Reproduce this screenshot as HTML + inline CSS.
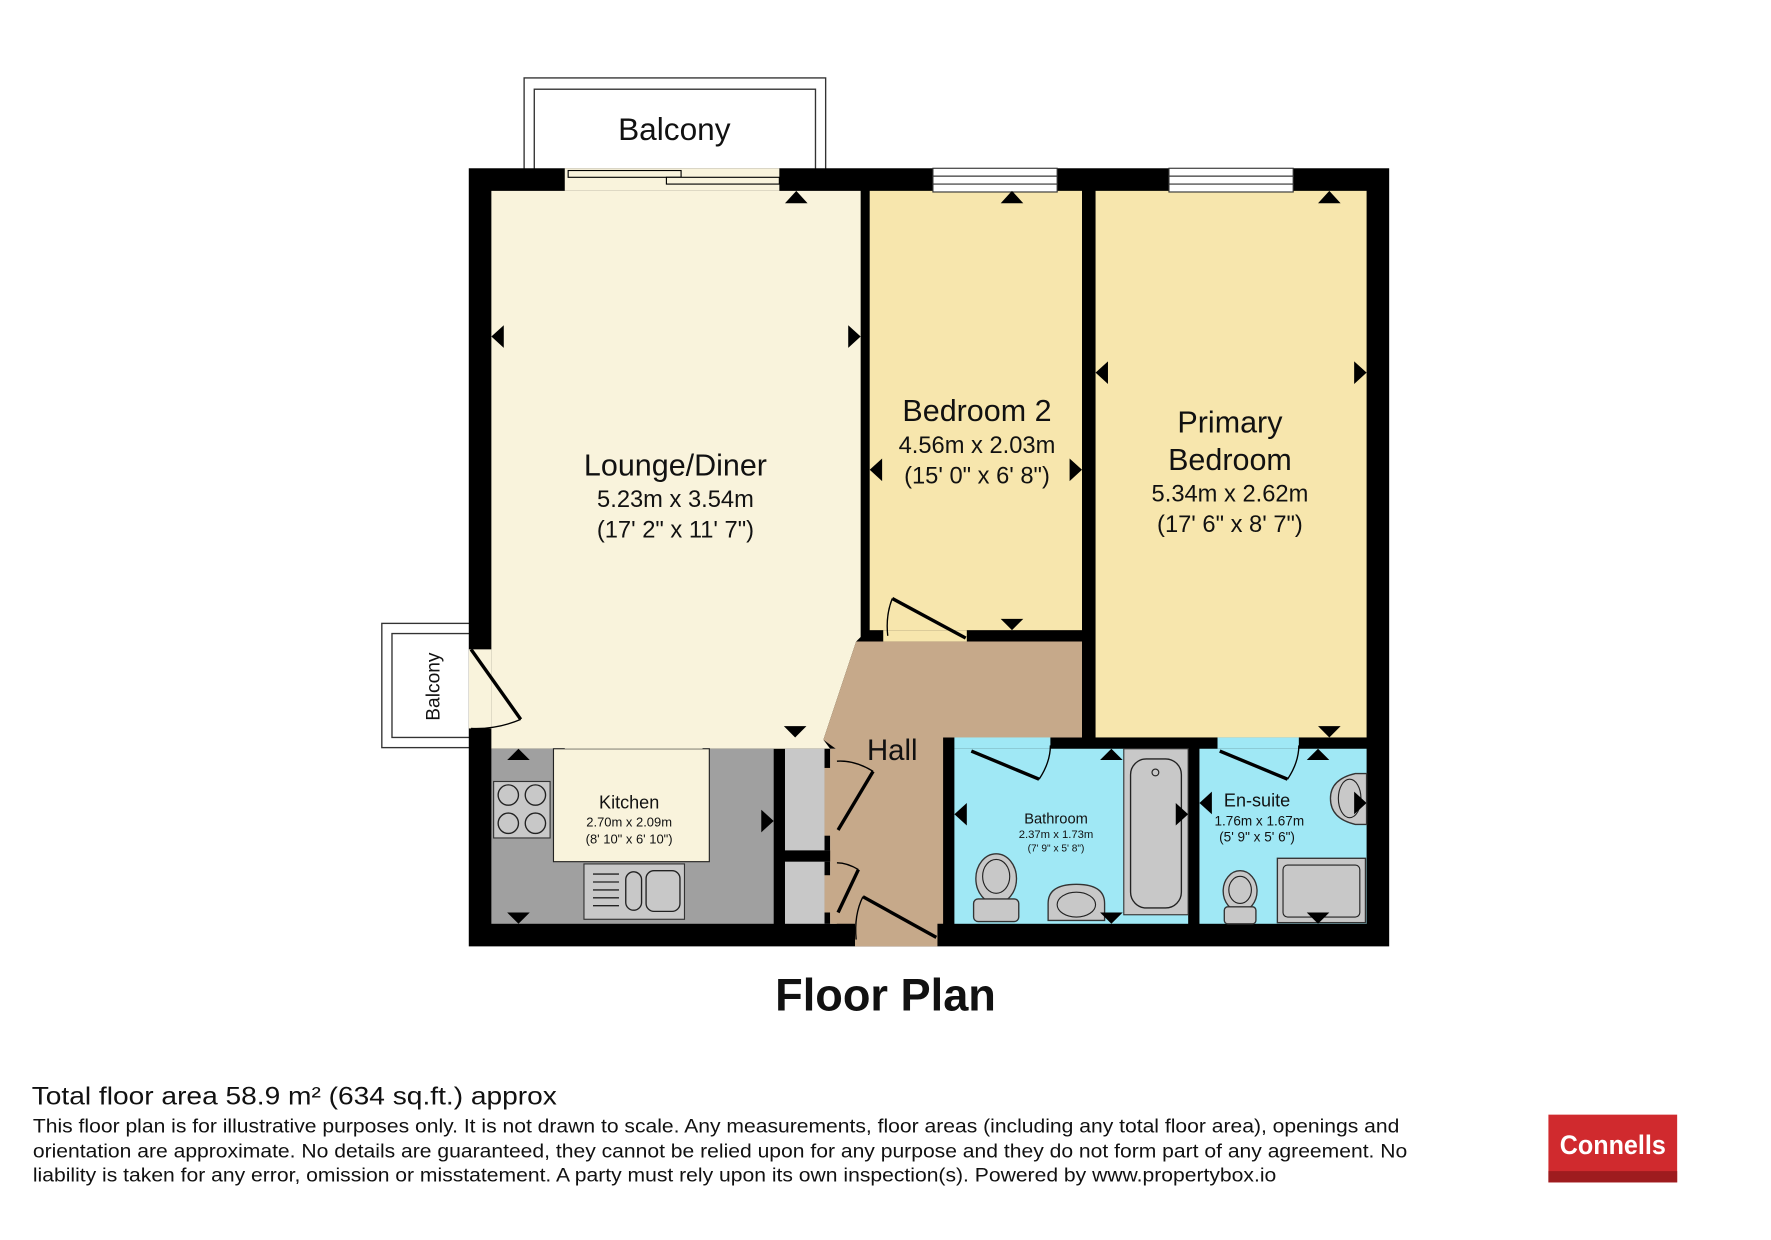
<!DOCTYPE html>
<html><head><meta charset="utf-8"><style>html,body{margin:0;padding:0;background:#fff}svg{display:block}text{font-family:"Liberation Sans",Arial,sans-serif;fill:#111}</style></head><body>
<svg width="1771" height="1240" viewBox="0 0 1568 1098" xmlns="http://www.w3.org/2000/svg">
<rect width="1568" height="1098" fill="#fff"/>
<rect x="464" y="69" width="267" height="90" fill="#fff" stroke="#333" stroke-width="1.2"/>
<rect x="473" y="79" width="249" height="80" fill="#fff" stroke="#333" stroke-width="1.2"/>
<text x="597" y="124" font-size="28" text-anchor="middle">Balcony</text>
<rect x="338" y="552" width="85" height="110" fill="#fff" stroke="#333" stroke-width="1.2"/>
<rect x="347" y="561" width="76" height="92" fill="#fff" stroke="#333" stroke-width="1.2"/>
<text transform="translate(389,608) rotate(-90)" font-size="17" text-anchor="middle">Balcony</text>
<rect x="415" y="149" width="815" height="689" fill="#000"/>
<polygon points="435,169 762,169 762,564 758,568 729,655 735,663 435,663" fill="#f9f3dc"/>
<rect x="770" y="169" width="188" height="389" fill="#f7e6ad"/>
<rect x="970" y="169" width="240" height="484" fill="#f7e6ad"/>
<polygon points="758,568 958,568 958,653 835,653 835,818 830,818 830,838 757,838 757,818 740,818 740,663 729,655" fill="#c6a98a"/>
<rect x="435" y="663" width="250" height="155" fill="#a0a0a0"/>
<rect x="490" y="663" width="138" height="100" fill="#f9f3dc" stroke="#222" stroke-width="1"/>
<rect x="695" y="663" width="45" height="90" fill="#c8c8c8"/>
<rect x="695" y="763" width="45" height="55" fill="#c8c8c8"/>
<rect x="730" y="663" width="5" height="90" fill="#000"/>
<rect x="730" y="763" width="5" height="55" fill="#000"/>
<rect x="735" y="663" width="6" height="155" fill="#c6a98a"/>
<rect x="730" y="680" width="11" height="60" fill="#c6a98a"/>
<rect x="730" y="775" width="11" height="33" fill="#c6a98a"/>
<rect x="845" y="663" width="207" height="155" fill="#a0e8f5"/>
<rect x="1062" y="663" width="148" height="155" fill="#a0e8f5"/>
<rect x="500" y="653" width="122" height="10" fill="#f9f3dc"/>
<rect x="845" y="653" width="85" height="10" fill="#a0e8f5"/>
<rect x="1078" y="653" width="72" height="10" fill="#a0e8f5"/>
<rect x="782" y="558" width="74" height="10" fill="#f7e6ad"/>
<rect x="415" y="575" width="20" height="70" fill="#f9f3dc"/>
<rect x="500" y="149" width="190" height="20" fill="#f9f3dc"/>
<rect x="503" y="151" width="100" height="6" fill="#f9f3dc" stroke="#000" stroke-width="1"/>
<rect x="590" y="157" width="100" height="6" fill="#f9f3dc" stroke="#000" stroke-width="1"/>
<g fill="#fff" stroke="#333" stroke-width="1">
<rect x="826" y="149" width="110" height="7"/><rect x="826" y="156" width="110" height="7"/><rect x="826" y="163" width="110" height="7"/>
<rect x="1035" y="149" width="110" height="7"/><rect x="1035" y="156" width="110" height="7"/><rect x="1035" y="163" width="110" height="7"/>
</g>
<g stroke="#000" fill="none">
<line x1="417" y1="575" x2="461" y2="637" stroke-width="3"/>
<path d="M461,637 Q440,646 417,645" stroke-width="1.2"/>
<line x1="790" y1="530" x2="855" y2="565" stroke-width="3"/>
<path d="M790,530 Q784,545 786,563" stroke-width="1.2"/>
<line x1="860" y1="665" x2="920" y2="690" stroke-width="3"/>
<path d="M920,690 Q930,675 930,660" stroke-width="1.2"/>
<line x1="1080" y1="665" x2="1140" y2="690" stroke-width="3"/>
<path d="M1140,690 Q1150,675 1150,660" stroke-width="1.2"/>
<line x1="742" y1="735" x2="773" y2="683" stroke-width="3"/>
<path d="M773,683 Q757,673 741,674" stroke-width="1.2"/>
<line x1="742" y1="808" x2="760" y2="770" stroke-width="3"/>
<path d="M760,770 Q750,764 741,764" stroke-width="1.2"/>
<line x1="764" y1="794" x2="829" y2="830" stroke-width="3"/>
<path d="M764,794 Q756,810 758,832" stroke-width="1.2"/>
</g>
<rect x="437" y="692" width="50" height="50" fill="#c8c8c8" stroke="#333"/>
<g fill="none" stroke="#222" stroke-width="1.2"><circle cx="450" cy="704" r="9"/><circle cx="474" cy="704" r="9"/><circle cx="450" cy="729" r="9"/><circle cx="474" cy="729" r="9"/></g>
<rect x="517" y="765" width="89" height="49" fill="#c8c8c8" stroke="#333"/>
<g stroke="#222" stroke-width="1.2" fill="none"><line x1="525" y1="774" x2="548" y2="774"/><line x1="525" y1="781" x2="548" y2="781"/><line x1="525" y1="788" x2="548" y2="788"/><line x1="525" y1="795" x2="548" y2="795"/><line x1="525" y1="802" x2="548" y2="802"/><rect x="554" y="772" width="14" height="34" rx="7"/><rect x="572" y="771" width="30" height="36" rx="7"/></g>
<rect x="995" y="663" width="57" height="147" fill="#c8c8c8" stroke="#333"/>
<rect x="1001" y="672" width="45" height="132" rx="14" fill="none" stroke="#222" stroke-width="1.2"/>
<circle cx="1023" cy="684" r="3" fill="none" stroke="#222"/>
<g fill="#c8c8c8" stroke="#333" stroke-width="1.2">
<ellipse cx="882" cy="778" rx="18" ry="22"/><rect x="862" y="796" width="40" height="20" rx="4"/>
<path d="M928,815 L928,800 Q928,783 953,783 Q978,783 978,800 L978,815 Z"/>
<ellipse cx="1098" cy="789" rx="15" ry="18"/><rect x="1084" y="803" width="28" height="15" rx="3"/>
<path d="M1210,685 L1200,685 Q1178,690 1178,707 Q1178,725 1200,730 L1210,730 Z"/>
<rect x="1131" y="760" width="78" height="57"/>
</g>
<g fill="none" stroke="#222" stroke-width="1"><ellipse cx="882" cy="776" rx="12" ry="15"/><ellipse cx="953" cy="801" rx="17" ry="11"/><ellipse cx="1098" cy="788" rx="10" ry="12"/><ellipse cx="1195" cy="707" rx="10" ry="17"/><rect x="1136" y="766" width="68" height="46" rx="4"/></g>
<g fill="#000">
<polygon points="695,180 715,180 705,169"/>
<polygon points="886,180 906,180 896,169"/>
<polygon points="1167,180 1187,180 1177,169"/>
<polygon points="446,288 446,308 435,298"/>
<polygon points="751,288 751,308 762,298"/>
<polygon points="781,406 781,426 770,416"/>
<polygon points="947,406 947,426 958,416"/>
<polygon points="981,320 981,340 970,330"/>
<polygon points="1199,320 1199,340 1210,330"/>
<polygon points="886,548 906,548 896,558"/>
<polygon points="1167,643 1187,643 1177,653"/>
<polygon points="694,643 714,643 704,653"/>
<polygon points="449,673 469,673 459,663"/>
<polygon points="449,808 469,808 459,818"/>
<polygon points="674,717 674,737 685,727"/>
<polygon points="856,711 856,731 845,721"/>
<polygon points="1041,711 1041,731 1052,721"/>
<polygon points="1073,701 1073,721 1062,711"/>
<polygon points="1199,701 1199,721 1210,711"/>
<polygon points="974,673 994,673 984,663"/>
<polygon points="1157,673 1177,673 1167,663"/>
<polygon points="974,808 994,808 984,818"/>
<polygon points="1157,808 1177,808 1167,818"/>
</g>
<g text-anchor="middle">
<text x="598" y="421" font-size="27">Lounge/Diner</text>
<text x="598" y="449" font-size="21">5.23m x 3.54m</text>
<text x="598" y="476" font-size="21">(17' 2" x 11' 7")</text>
<text x="865" y="373" font-size="27">Bedroom 2</text>
<text x="865" y="401" font-size="21">4.56m x 2.03m</text>
<text x="865" y="428" font-size="21">(15' 0" x 6' 8")</text>
<text x="1089" y="383" font-size="27">Primary</text>
<text x="1089" y="416" font-size="27">Bedroom</text>
<text x="1089" y="444" font-size="21">5.34m x 2.62m</text>
<text x="1089" y="471" font-size="21">(17' 6" x 8' 7")</text>
<text x="790" y="673" font-size="26">Hall</text>
<text x="557" y="716" font-size="16">Kitchen</text>
<text x="557" y="732" font-size="11.5">2.70m x 2.09m</text>
<text x="557" y="747" font-size="11.5">(8' 10" x 6' 10")</text>
<text x="935" y="729" font-size="13">Bathroom</text>
<text x="935" y="742" font-size="10">2.37m x 1.73m</text>
<text x="935" y="754" font-size="9">(7' 9" x 5' 8")</text>
<text x="1113" y="714" font-size="16">En-suite</text>
<text x="1115" y="731" font-size="12">1.76m x 1.67m</text>
<text x="1113" y="745" font-size="12">(5' 9" x 5' 6")</text>
<text x="784" y="895" font-size="40" font-weight="bold">Floor Plan</text>
</g>
<text x="28" y="978" font-size="22" textLength="465" lengthAdjust="spacingAndGlyphs">Total floor area 58.9 m² (634 sq.ft.) approx</text>
<text x="29" y="1003" font-size="17" textLength="1210" lengthAdjust="spacingAndGlyphs">This floor plan is for illustrative purposes only. It is not drawn to scale. Any measurements, floor areas (including any total floor area), openings and</text>
<text x="29" y="1025" font-size="17" textLength="1217" lengthAdjust="spacingAndGlyphs">orientation are approximate. No details are guaranteed, they cannot be relied upon for any purpose and they do not form part of any agreement. No</text>
<text x="29" y="1046" font-size="17" textLength="1101" lengthAdjust="spacingAndGlyphs">liability is taken for any error, omission or misstatement. A party must rely upon its own inspection(s). Powered by www.propertybox.io</text>
<rect x="1371" y="987" width="114" height="60" fill="#d02a2e"/>
<rect x="1371" y="1037" width="114" height="10" fill="#9e1c1f"/>
<text x="1428" y="1022" font-size="24" font-weight="bold" text-anchor="middle" style="fill:#fff" textLength="94" lengthAdjust="spacingAndGlyphs">Connells</text>
</svg>
</body></html>
